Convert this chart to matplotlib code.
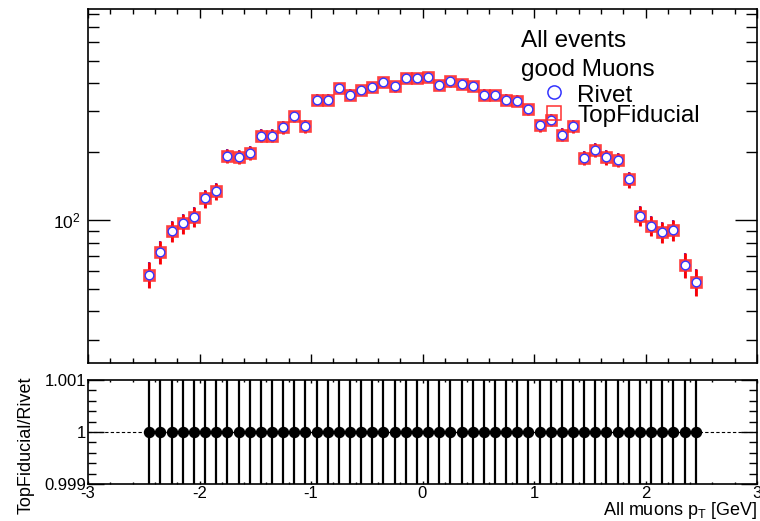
import numpy as np
import matplotlib
matplotlib.use("Agg")
import matplotlib.pyplot as plt
from matplotlib.lines import Line2D
from matplotlib.ticker import LogLocator, MultipleLocator, FixedLocator, NullFormatter

plt.rcParams['font.family'] = ['Liberation Sans', 'DejaVu Sans']
plt.rcParams['mathtext.fontset'] = 'custom'
plt.rcParams['mathtext.rm'] = 'Liberation Sans'
plt.rcParams['mathtext.it'] = 'Liberation Sans:italic'
plt.rcParams['axes.unicode_minus'] = False

# ---- data ----
bin_centers = [-2.45, -2.35, -2.25, -2.15, -2.05, -1.95, -1.85, -1.75, -1.65, -1.55,
               -1.45, -1.35, -1.25, -1.15, -1.05, -0.95, -0.85, -0.75, -0.65, -0.55,
               -0.45, -0.35, -0.25, -0.15, -0.05, 0.05, 0.15, 0.25, 0.35, 0.45,
               0.55, 0.65, 0.75, 0.85, 0.95, 1.05, 1.15, 1.25, 1.35, 1.45,
               1.55, 1.65, 1.75, 1.85, 1.95, 2.05, 2.15, 2.25, 2.35, 2.45]
rivet_values = [58, 73, 90, 97, 104, 125, 134, 192, 190, 197,
                235, 235, 255, 285, 258, 337, 337, 380, 355, 372,
                382, 402, 385, 420, 420, 423, 391, 405, 395, 386,
                355, 354, 337, 334, 306, 260, 275, 237, 258, 188,
                204, 189, 184, 151, 105, 95, 89, 90.5, 64, 54]
rivet_errors = [7.6, 8.5, 9.5, 9.8, 10.2, 11.2, 11.6, 13.9, 13.8, 14.0,
                15.3, 15.3, 16.0, 16.9, 16.1, 18.4, 18.4, 19.5, 18.8, 19.3,
                19.5, 20.0, 19.6, 20.5, 20.5, 20.6, 19.8, 20.1, 19.9, 19.6,
                18.8, 18.8, 18.4, 18.3, 17.5, 16.1, 16.6, 15.4, 16.1, 13.7,
                14.3, 13.7, 13.6, 12.3, 10.2, 9.7, 9.4, 9.5, 8.0, 7.3]
topfid_values = list(rivet_values)
topfid_errors = list(rivet_errors)

x = np.array(bin_centers)
r_v = np.array(rivet_values, dtype=float)
r_e = np.array(rivet_errors, dtype=float)
t_v = np.array(topfid_values, dtype=float)
t_e = np.array(topfid_errors, dtype=float)
ratio = t_v / r_v
ratio_err = ratio * np.sqrt((t_e / t_v) ** 2 + (r_e / r_v) ** 2)

W, H = 760, 521
fig = plt.figure(figsize=(W / 100, H / 100), dpi=100)

def fx(px):
    return px / W

def fy(py):
    return 1 - py / H

ax1 = fig.add_axes([fx(88), fy(363), fx(757) - fx(88), fy(9) - fy(363)])
ax2 = fig.add_axes([fx(88), fy(484), fx(757) - fx(88), fy(380) - fy(484)])

# ---- top panel ----
ax1.errorbar(x, r_v, yerr=r_e, fmt='none', ecolor='#3333ff',
             elinewidth=1.5, capsize=0, zorder=2)
ax1.errorbar(x, t_v, yerr=t_e, fmt='none', ecolor='#ff0000',
             elinewidth=2.0, capsize=0, zorder=3)
ax1.plot(x, t_v, 's', mfc='white', mec='#ff2a2a', ms=7.4, mew=1.9, zorder=4, alpha=0.9)
ax1.plot(x, r_v, 'o', mfc='white', mec='#3333ff', ms=6.2, mew=1.0, zorder=5)

ax1.set_yscale('log')
ax1.set_xlim(-3, 3)
ax1.set_ylim(23.8, 840)
ax1.xaxis.set_major_locator(MultipleLocator(1))
ax1.xaxis.set_minor_locator(MultipleLocator(0.2))
ax1.yaxis.set_major_locator(LogLocator(base=10, numticks=10))
ax1.yaxis.set_minor_locator(LogLocator(base=10, subs=np.arange(2, 10), numticks=20))
ax1.yaxis.set_minor_formatter(NullFormatter())
ax1.tick_params(axis='both', which='both', direction='in', top=True, right=True,
                labelbottom=False, width=1.0, labelsize=12.5)
ax1.tick_params(axis='x', which='major', length=6.5)
ax1.tick_params(axis='x', which='minor', length=3.3)
ax1.tick_params(axis='y', which='major', length=15.5, pad=5)
ax1.tick_params(axis='y', which='minor', length=8)
for s in ax1.spines.values():
    s.set_linewidth(1.2)

# annotation and legend
fs = 17.5
fig.text(fx(521), fy(46.7), 'All events', fontsize=fs, va='baseline', ha='left')
fig.text(fx(521), fy(76), 'good Muons', fontsize=fs, va='baseline', ha='left')
fig.text(fx(577), fy(101.7), 'Rivet', fontsize=fs, va='baseline', ha='left')
fig.text(fx(577), fy(121.7), 'TopFiducial', fontsize=fs, va='baseline', ha='left')
fig.add_artist(Line2D([fx(554)], [fy(91.7)], marker='o', mfc='none', mec='#3333ff',
                      ms=9.5, mew=1.1, transform=fig.transFigure))
fig.add_artist(Line2D([fx(554)], [fy(113.3)], marker='s', mfc='none', mec='#ff3030',
                      ms=9.5, mew=1.1, transform=fig.transFigure))

# ---- ratio panel ----
ax2.plot([-3, 3], [1, 1], color='black', lw=0.8, ls=(0, (3, 2)), zorder=1)
ax2.errorbar(x, ratio, yerr=ratio_err, fmt='o', color='black', ms=7.2,
             elinewidth=1.6, capsize=0, zorder=3)
ax2.set_xlim(-3, 3)
ax2.set_ylim(0.999, 1.001)
ax2.xaxis.set_major_locator(MultipleLocator(1))
ax2.xaxis.set_minor_locator(MultipleLocator(0.2))
ax2.yaxis.set_major_locator(FixedLocator([0.999, 1.0, 1.001]))
ax2.yaxis.set_minor_locator(MultipleLocator(0.0002))
ax2.set_yticklabels(['0.999', '1', '1.001'])
ax2.tick_params(axis='both', which='both', direction='in', top=True, right=True,
                width=1.0, labelsize=12)
ax2.tick_params(axis='x', which='major', length=2.5, pad=1.5)
ax2.tick_params(axis='x', which='minor', length=1.3)
ax2.tick_params(axis='y', which='major', length=11.5, pad=1.5)
ax2.tick_params(axis='y', which='minor', length=5.8)
for s in ax2.spines.values():
    s.set_linewidth(1.2)

ax2.set_xlabel(r'All muons p$_{\mathrm{T}}$ [GeV]', fontsize=13, loc='right')
ax2.xaxis.set_label_coords(1.0, -0.155)
ax2.set_ylabel('TopFiducial/Rivet', fontsize=13, loc='top')
ax2.yaxis.set_label_coords(-0.08, 1.03)

fig.savefig('out.png', dpi=100)
